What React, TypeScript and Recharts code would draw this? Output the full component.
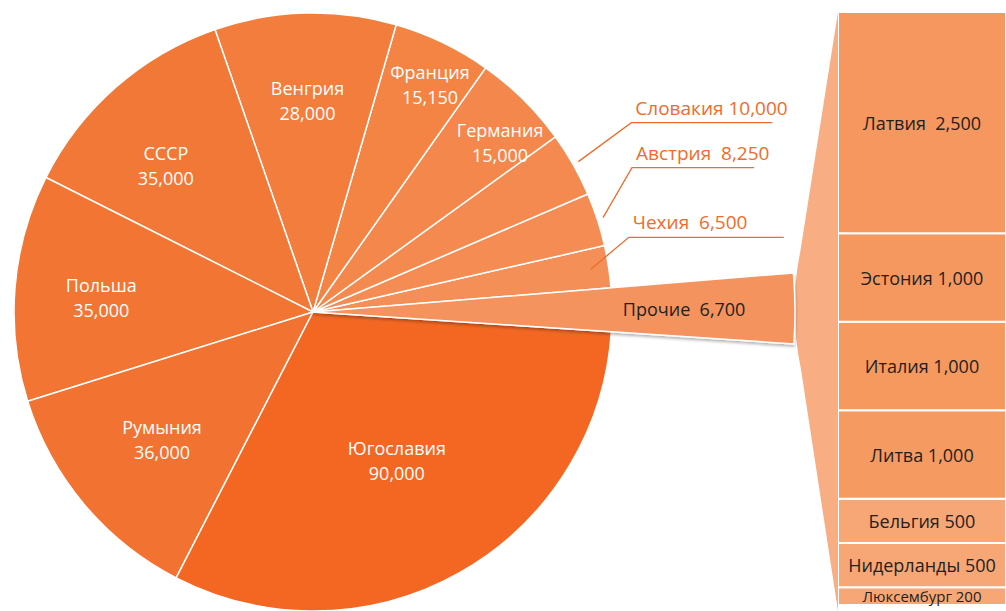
import React from 'react';
import { PieChart, Pie, Cell, BarChart, Bar, XAxis, YAxis, LabelList } from 'recharts';

// ---- data ----
const PIE_NAMES = ['Прочие', 'Чехия', 'Австрия', 'Словакия', 'Германия', 'Франция', 'Венгрия', 'СССР', 'Польша', 'Румыния', 'Югославия'];
const PIE_VALUES = [6700, 6500, 8250, 10000, 15000, 15150, 28000, 35000, 35000, 36000, 90000];
const OTHER_NAMES = ['Латвия', 'Эстония', 'Италия', 'Литва', 'Бельгия', 'Нидерланды', 'Люксембург'];
const OTHER_VALUES = [2500, 1000, 1000, 1000, 500, 500, 200];

// ---- styles ----
const PIE_COLORS = ['#F5935E', '#F48F57', '#F48C53', '#F48A4F', '#F4874B', '#F38444', '#F27D3C', '#F27837', '#F27533', '#F27231', '#F36723'];
const OTHER_COLORS = ['#F5975F', '#F5985F', '#F5995F', '#F59A61', '#F7A676', '#F7A676', '#F7A676'];
const CONNECTOR_COLOR = '#F8AD82';
const ORANGE_TEXT = '#F26B2A';
const FONT = '"Open Sans", sans-serif';

// ---- layout ----
const W = 1006;
const H = 611;
const CX = 313;
const CY = 312;
const R = 299;
const EXT_R = 482;
const START_ANGLE = -3.8;
const BAR_LEFT = 838;
const BAR_TOP = 12;
const BAR_W = W - BAR_LEFT;
const BAR_H = H - BAR_TOP;
const BAR_BOTTOM_GAP = 6;
const RAD = Math.PI / 180;

// label placement: radius fraction and angle offset (degrees) from the slice middle
const INNER_LABEL: Record<string, { r: number; da: number }> = {
  'Венгрия': { r: 0.71, da: 0 },
  'Франция': { r: 0.856, da: -1.5 },
  'Германия': { r: 0.846, da: -3 },
  'СССР': { r: 0.696, da: 3.8 },
  'Польша': { r: 0.71, da: 0.5 },
  'Румыния': { r: 0.66, da: 0 },
  'Югославия': { r: 0.57, da: 0 },
};
const OUTER_LABELS: Record<string, { r: number; dx: number; dy: number; len: number; sep: string }> = {
  'Словакия': { r: 1.02, dx: 53, dy: -39, len: 141, sep: ' ' },
  'Австрия': { r: 1.02, dx: 29, dy: -50, len: 122, sep: '  ' },
  'Чехия': { r: 0.94, dx: 38, dy: -32, len: 155, sep: '  ' },
};
const BAR_SEP: Record<string, string> = { 'Латвия': '  ' };

const pieData = PIE_NAMES.map((name, i) => ({ name, value: PIE_VALUES[i] }));
const pieTotal = PIE_VALUES.reduce((a, b) => a + b, 0);
const otherTotal = OTHER_VALUES.reduce((a, b) => a + b, 0);
const barRow: Record<string, any> = { cat: 'Прочие' };
OTHER_NAMES.forEach((n, i) => { barRow[n] = OTHER_VALUES[i]; });
const barData = [barRow];

const fmt = (v: number) => Number(v).toLocaleString('en-US');

const renderMainLabel = (p: any) => {
  const name: string = p.payload?.name ?? p.name;
  const value: number = p.payload?.value ?? p.value;
  const cx = Number(p.cx);
  const cy = Number(p.cy);
  const outer = Number(p.outerRadius);
  const inner = INNER_LABEL[name];
  if (inner) {
    const a = -(p.midAngle + inner.da) * RAD;
    const r = outer * inner.r;
    const x = cx + r * Math.cos(a);
    const y = cy + r * Math.sin(a);
    return (
      <text key={name} x={x} y={y} fill="#fff" fontFamily={FONT} fontSize={18} textAnchor="middle">
        <tspan x={x} dy={-5}>{name}</tspan>
        <tspan x={x} dy={25}>{fmt(value)}</tspan>
      </text>
    );
  }
  const o = OUTER_LABELS[name];
  if (o) {
    const a = -p.midAngle * RAD;
    const r = outer * o.r;
    const sx = cx + r * Math.cos(a);
    const sy = cy + r * Math.sin(a);
    const ex = sx + o.dx;
    const ey = sy + o.dy;
    return (
      <g key={name}>
        <polyline points={`${sx},${sy} ${ex},${ey} ${ex + o.len},${ey}`} fill="none" stroke={ORANGE_TEXT} strokeWidth={1.3} />
        <text x={ex + 4} y={ey - 8} fill={ORANGE_TEXT} fontFamily={FONT} fontSize={19} style={{ whiteSpace: 'pre' }}>
          {`${name}${o.sep}${fmt(value)}`}
        </text>
      </g>
    );
  }
  return null;
};

const renderExtLabel = (p: any) => {
  const name: string = p.payload?.name ?? p.name;
  if (name !== 'Прочие') return null;
  const value: number = p.payload?.value ?? p.value;
  const a = -p.midAngle * RAD;
  const r = Number(p.outerRadius) * 0.77;
  const x = Number(p.cx) + r * Math.cos(a);
  const y = Number(p.cy) + r * Math.sin(a);
  return (
    <text key={name} x={x} y={y} fill="#231F20" fontFamily={FONT} fontSize={18} textAnchor="middle" dominantBaseline="central" style={{ whiteSpace: 'pre' }}>
      {`${name}  ${fmt(value)}`}
    </text>
  );
};

const Connector = () => {
  const a0 = START_ANGLE * RAD;
  const a1 = (START_ANGLE + (PIE_VALUES[0] / pieTotal) * 360) * RAD;
  const topX = CX + EXT_R * Math.cos(a1);
  const topY = CY - EXT_R * Math.sin(a1);
  const botX = CX + EXT_R * Math.cos(a0);
  const botY = CY - EXT_R * Math.sin(a0);
  const midY = (topY + botY) / 2;
  const endX = Math.min(topX, botX);
  const p1x = topX + 7;
  const p1y = topY - 22;
  const p2x = botX + 7;
  const p2y = botY + 25;
  const d = `M ${BAR_LEFT} ${BAR_TOP} L ${p1x} ${p1y} Q ${endX - 5} ${midY} ${p2x} ${p2y} L ${BAR_LEFT} ${H} Z`;
  return (
    <svg width={W} height={H} style={{ position: 'absolute', left: 0, top: 0 }}>
      <path d={d} fill={CONNECTOR_COLOR} />
    </svg>
  );
};

export default function App() {
  return (
    <div style={{ position: 'absolute', left: 0, top: 0, width: W, height: H, overflow: 'hidden', background: '#fff' }}>
      <Connector />
      <div style={{ position: 'absolute', left: 0, top: 0 }}>
        <PieChart width={W} height={H} margin={{ top: 0, right: 0, bottom: 0, left: 0 }}>
          <defs>
            <filter id="wedgeShadow" x="-10%" y="-30%" width="120%" height="160%">
              <feDropShadow dx="0" dy="2" stdDeviation="1.5" floodColor="#000" floodOpacity="0.3" />
            </filter>
          </defs>
          <Pie
            data={pieData}
            dataKey="value"
            nameKey="name"
            cx={CX}
            cy={CY}
            outerRadius={R}
            startAngle={START_ANGLE}
            endAngle={START_ANGLE + 360}
            stroke="#fff"
            strokeWidth={1.5}
            label={renderMainLabel}
            labelLine={false}
            isAnimationActive={false}
          >
            {pieData.map((d, i) => (
              <Cell key={d.name} fill={PIE_COLORS[i]} />
            ))}
          </Pie>
          <Pie
            data={pieData}
            dataKey="value"
            nameKey="name"
            cx={CX}
            cy={CY}
            outerRadius={EXT_R}
            startAngle={START_ANGLE}
            endAngle={START_ANGLE + 360}
            label={renderExtLabel}
            labelLine={false}
            isAnimationActive={false}
          >
            {pieData.map((d, i) => (
              <Cell
                key={d.name}
                fill={i === 0 ? PIE_COLORS[0] : 'none'}
                stroke={i === 0 ? '#fff' : 'none'}
                strokeWidth={i === 0 ? 1.5 : 0}
                style={i === 0 ? { filter: 'url(#wedgeShadow)' } : undefined}
              />
            ))}
          </Pie>
        </PieChart>
      </div>
      <div style={{ position: 'absolute', left: BAR_LEFT, top: BAR_TOP }}>
        <BarChart width={BAR_W} height={BAR_H} data={barData} margin={{ top: 0, right: 0, bottom: BAR_BOTTOM_GAP, left: 0 }} barCategoryGap={0} barGap={0}>
          <XAxis dataKey="cat" hide />
          <YAxis hide domain={[0, otherTotal]} />
          {[...OTHER_NAMES].reverse().map((n) => {
            const i = OTHER_NAMES.indexOf(n);
            return (
              <Bar key={n} dataKey={n} stackId="a" fill={OTHER_COLORS[i]} stroke="#fff" strokeWidth={2} isAnimationActive={false}>
                <LabelList
                  dataKey={n}
                  content={(lp: any) => {
                    const h = Number(lp.height);
                    const small = h < 24;
                    const x = Number(lp.x) + Number(lp.width) / 2;
                    const y = Number(lp.y) + h / 2;
                    return (
                      <text x={x} y={y} fill="#231F20" fontFamily={FONT} fontSize={small ? 15 : 18} textAnchor="middle" dominantBaseline="central" style={{ whiteSpace: 'pre' }}>
                        {`${n}${BAR_SEP[n] ?? ' '}${fmt(lp.value)}`}
                      </text>
                    );
                  }}
                />
              </Bar>
            );
          })}
        </BarChart>
      </div>
    </div>
  );
}
